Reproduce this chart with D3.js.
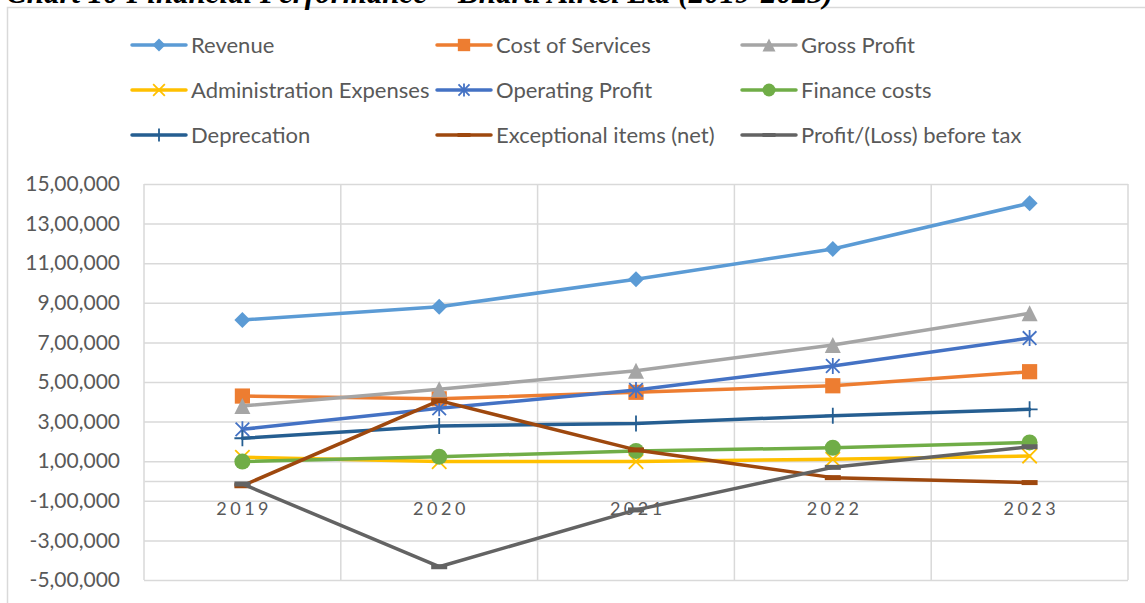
<!DOCTYPE html>
<html>
<head>
<meta charset="utf-8">
<script src="https://cdn.jsdelivr.net/npm/d3@7"></script>
<style>
  html, body { margin: 0; padding: 0; background: #ffffff; overflow: hidden; }
  svg { display: block; }
</style>
</head>
<body>
<svg id="chart" width="1145" height="603"></svg>
<script>
// ---------------- DATA ----------------
const titleText = "Chart 10 Financial Performance – Bharti Airtel Ltd (2019-2023)";
const categories = ["2019", "2020", "2021", "2022", "2023"];

const revenue          = [813000, 880000, 1019000, 1172000, 1403000];
const costOfServices   = [429000, 415000, 448000, 481000, 552000];
const grossProfit      = [379000, 463000, 557000, 687000, 847000];
const adminExpenses    = [120000, 98000, 98000, 110000, 126000];
const operatingProfit  = [261000, 367000, 460000, 581000, 722000];
const financeCosts     = [98000, 123000, 152000, 168000, 195000];
const depreciation     = [216000, 278000, 291000, 330000, 362000];
const exceptionalItems = [-24000, 406000, 157000, 17000, -8000];
const profitBeforeTax  = [-15000, -433000, -146000, 69000, 173000];

const seriesNames = ["Revenue", "Cost of Services", "Gross Profit",
                     "Administration Expenses", "Operating Profit", "Finance costs",
                     "Deprecation", "Exceptional items (net)", "Profit/(Loss) before tax"];
const seriesValues = [revenue, costOfServices, grossProfit,
                      adminExpenses, operatingProfit, financeCosts,
                      depreciation, exceptionalItems, profitBeforeTax];

const yTickValues = [-500000, -300000, -100000, 100000, 300000, 500000, 700000, 900000, 1100000, 1300000, 1500000];
const yTickLabels = ["-5,00,000", "-3,00,000", "-1,00,000", "1,00,000", "3,00,000", "5,00,000",
                     "7,00,000", "9,00,000", "11,00,000", "13,00,000", "15,00,000"];
const yDomain = [-500000, 1500000];

// ---------------- STYLE ----------------
const colors  = ["#5B9BD5", "#ED7D31", "#A5A5A5", "#FFC000", "#4472C4", "#70AD47", "#255E91", "#9E480E", "#636363"];
const markers = ["diamond", "square", "triangle", "x", "asterisk", "circle", "plus", "dash", "dash"];
const FONT = "Lato, 'Open Sans', sans-serif";
const TEXT_COLOR = "#595959";
const GRID = "#d9d9d9";

const svg = d3.select("#chart");

const plot = { left: 144, right: 1128, top: 184, bottom: 580 };

// Outer chart border
svg.append("rect")
  .attr("x", 7.5).attr("y", 7.5)
  .attr("width", 1160).attr("height", 620)
  .attr("fill", "none").attr("stroke", GRID).attr("stroke-width", 1.5);

// Title (partially cut off at top as in the reference)
svg.append("text")
  .attr("x", 6).attr("y", 3)
  .attr("font-family", "'Liberation Serif', 'Times New Roman', serif")
  .attr("font-style", "italic").attr("font-weight", "bold")
  .attr("font-size", 31)
  .attr("fill", "#000")
  .text(titleText);

// Scales
const x = d3.scaleBand().domain(categories).range([plot.left, plot.right]).padding(0);
const y = d3.scaleLinear().domain(yDomain).range([plot.bottom, plot.top]);
const cx = d => x(d) + x.bandwidth() / 2;

// Horizontal gridlines
const yAxis = d3.axisLeft(y).tickValues(yTickValues)
  .tickSize(-(plot.right - plot.left))
  .tickFormat((d, i) => yTickLabels[i]);
const gy = svg.append("g").attr("transform", `translate(${plot.left},0)`).call(yAxis);
gy.select(".domain").remove();
gy.selectAll(".tick line").attr("stroke", GRID).attr("stroke-width", 1.5);
gy.selectAll(".tick text")
  .attr("x", -24)
  .attr("font-family", FONT).attr("font-size", 21).attr("fill", TEXT_COLOR);

// Vertical gridlines at band boundaries
const boundaries = categories.map(c => x(c)).concat([plot.right]);
svg.append("g").selectAll("line").data(boundaries).join("line")
  .attr("x1", d => d).attr("x2", d => d)
  .attr("y1", plot.top).attr("y2", plot.bottom)
  .attr("stroke", GRID).attr("stroke-width", 1.5);

// Category axis at zero
const xAxis = d3.axisBottom(x).tickSize(0).tickPadding(0);
const gx = svg.append("g").attr("transform", `translate(0,${y(0)})`).call(xAxis);
gx.select(".domain").attr("stroke", GRID).attr("stroke-width", 1.5);
gx.selectAll(".tick text")
  .attr("y", 34).attr("dy", 0)
  .attr("font-family", FONT).attr("font-size", 18).attr("fill", TEXT_COLOR)
  .attr("letter-spacing", 3.5)
  .attr("dx", 1.75);

// Marker drawing
function drawMarker(g, type, color, s, legend) {
  const h = s / 2;
  switch (type) {
    case "diamond":
      g.append("path").attr("d", `M0,${-h}L${h},0L0,${h}L${-h},0Z`).attr("fill", color);
      break;
    case "square":
      g.append("rect").attr("x", -h * 0.95).attr("y", -h * 0.95).attr("width", s * 0.95).attr("height", s * 0.95).attr("fill", color);
      break;
    case "triangle":
      g.append("path").attr("d", `M0,${-h}L${h},${h}L${-h},${h}Z`).attr("fill", color);
      break;
    case "circle":
      g.append("circle").attr("r", h).attr("fill", color);
      break;
    case "x": {
      const k = h * 0.9;
      g.append("path").attr("d", `M${-k},${-k}L${k},${k}M${-k},${k}L${k},${-k}`)
        .attr("stroke", color).attr("stroke-width", 1.8).attr("fill", "none");
      break;
    }
    case "asterisk": {
      const k = h * 0.85;
      g.append("path").attr("d", `M${-k},${-k}L${k},${k}M${-k},${k}L${k},${-k}M0,${-h}L0,${h}`)
        .attr("stroke", color).attr("stroke-width", 1.8).attr("fill", "none");
      break;
    }
    case "plus":
      g.append("path").attr("d", `M0,${-h}L0,${h}M${-h},0L${h},0`)
        .attr("stroke", color).attr("stroke-width", 1.8).attr("fill", "none");
      break;
    case "dash": {
      const th = legend ? 4 : 5;
      g.append("rect").attr("x", -h).attr("y", -th / 2).attr("width", s).attr("height", th).attr("fill", color);
      break;
    }
  }
}

// Series lines + markers
const line = d3.line().x((d, i) => cx(categories[i])).y(d => y(d));
seriesValues.forEach((vals, si) => {
  const g = svg.append("g");
  g.append("path").datum(vals).attr("d", line)
    .attr("fill", "none").attr("stroke", colors[si]).attr("stroke-width", 3.5)
    .attr("stroke-linejoin", "round").attr("stroke-linecap", "round");
  vals.forEach((v, i) => {
    const mg = g.append("g").attr("transform", `translate(${cx(categories[i])},${y(v)})`);
    drawMarker(mg, markers[si], colors[si], 16, false);
  });
});

// Legend
const legendCols = [132, 437, 742];
const legendRows = [45, 90, 135];
seriesNames.forEach((name, i) => {
  const lx = legendCols[i % 3], ly = legendRows[Math.floor(i / 3)];
  const g = svg.append("g").attr("transform", `translate(${lx},${ly})`);
  g.append("line").attr("x1", 0).attr("x2", 54).attr("y1", 0).attr("y2", 0)
    .attr("stroke", colors[i]).attr("stroke-width", 3.5).attr("stroke-linecap", "round");
  const mg = g.append("g").attr("transform", "translate(27,0)");
  drawMarker(mg, markers[i], colors[i], 13, true);
  g.append("text").attr("x", 59).attr("y", 0).attr("dy", "0.35em")
    .attr("font-family", FONT).attr("font-size", 22).attr("fill", TEXT_COLOR)
    .text(name);
});
</script>
</body>
</html>
